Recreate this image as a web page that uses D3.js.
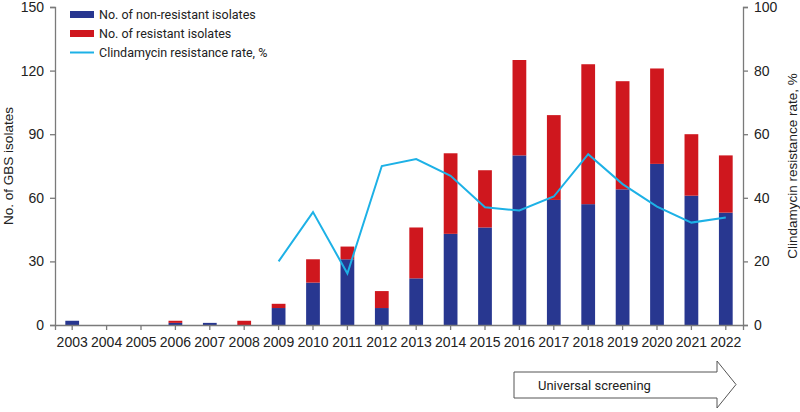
<!DOCTYPE html>
<html>
<head>
<meta charset="utf-8">
<script src="https://cdn.jsdelivr.net/npm/d3@7"></script>
<style>
  body { margin: 0; background: #fff; }
  text { font-family: "Liberation Sans", Arial, sans-serif; }
  .legend text, .banner text { font-family: Roboto, sans-serif; }
</style>
</head>
<body>
<script>
// data
var years = ["2003","2004","2005","2006","2007","2008","2009","2010","2011","2012",
             "2013","2014","2015","2016","2017","2018","2019","2020","2021","2022"];
var nonResistant = [2, 0, 0, 1, 1, 0, 8, 20, 31, 8, 22, 43, 46, 80, 59, 57, 64, 76, 61, 53];
var resistant    = [0, 0, 0, 1, 0, 2, 2, 11, 6, 8, 24, 38, 27, 45, 40, 66, 51, 45, 29, 27];
var rateYears = ["2009","2010","2011","2012","2013","2014","2015","2016","2017","2018",
                 "2019","2020","2021","2022"];
var rate = [20, 35.5, 16.2, 50, 52.2, 46.9, 37, 36, 40.4, 53.7, 44.3, 37.2, 32.2, 33.8];
var leftTicks = [0, 30, 60, 90, 120, 150];
var rightTicks = [0, 20, 40, 60, 80, 100];

var width = 800, height = 412;
var margin = {top: 7, right: 57, bottom: 87, left: 55};

var svg = d3.select("body").append("svg")
    .attr("width", width)
    .attr("height", height);

// scales
var x = d3.scaleBand()
    .domain(years)
    .range([margin.left, width - margin.right])
    .paddingInner(0.6)
    .paddingOuter(0.3);

var y = d3.scaleLinear()
    .domain([0, 150])
    .range([height - margin.bottom, margin.top]);

var y2 = d3.scaleLinear()
    .domain([0, 100])
    .range([height - margin.bottom, margin.top]);

var blue = "#283790", red = "#cf171e", cyan = "#1db1e6", axisGrey = "#7a7a7a";

// stacked bars
var rows = years.map(function(yr, i) {
  return {year: yr, nonResistant: nonResistant[i], resistant: resistant[i]};
});
var stack = d3.stack().keys(["nonResistant", "resistant"])(rows);
var colours = {nonResistant: blue, resistant: red};

svg.append("g").selectAll("g")
    .data(stack)
  .enter().append("g")
    .attr("fill", function(d) { return colours[d.key]; })
  .selectAll("rect")
    .data(function(d) { return d; })
  .enter().append("rect")
    .attr("x", function(d) { return x(d.data.year); })
    .attr("y", function(d) { return y(d[1]); })
    .attr("width", x.bandwidth())
    .attr("height", function(d) { return y(d[0]) - y(d[1]); });

// resistance rate line
var line = d3.line()
    .x(function(d, i) { return x(rateYears[i]) + x.bandwidth() / 2; })
    .y(function(d) { return y2(d); });

svg.append("path")
    .datum(rate)
    .attr("fill", "none")
    .attr("stroke", cyan)
    .attr("stroke-width", 2)
    .attr("d", line);

// axes
function styleAxis(g) {
  g.selectAll("path, line").attr("stroke", axisGrey).attr("stroke-width", 1.3);
  g.selectAll("text").attr("fill", "#222").style("font-size", "14px");
}

svg.append("g")
    .attr("transform", "translate(0," + (height - margin.bottom) + ")")
    .call(d3.axisBottom(x).tickSizeOuter(0).tickSize(5).tickPadding(7))
    .call(styleAxis);

svg.append("g")
    .attr("transform", "translate(" + margin.left + ",0)")
    .call(d3.axisLeft(y).tickValues(leftTicks).tickSizeOuter(0).tickSize(5).tickPadding(6))
    .call(styleAxis);

svg.append("g")
    .attr("transform", "translate(" + (width - margin.right) + ",0)")
    .call(d3.axisRight(y2).tickValues(rightTicks).tickSizeOuter(0).tickSize(5).tickPadding(6))
    .call(styleAxis);

// axis titles
svg.append("text")
    .attr("transform", "translate(13," + (height - margin.bottom + margin.top) / 2 + ") rotate(-90)")
    .attr("text-anchor", "middle")
    .attr("fill", "#222")
    .style("font-size", "13.5px")
    .text("No. of GBS isolates");

svg.append("text")
    .attr("transform", "translate(797," + (height - margin.bottom + margin.top) / 2 + ") rotate(-90)")
    .attr("text-anchor", "middle")
    .attr("fill", "#222")
    .style("font-size", "13.5px")
    .text("Clindamycin resistance rate, %");

// legend
var legend = svg.append("g").attr("class", "legend");
var items = [
  {label: "No. of non-resistant isolates", colour: blue, type: "rect"},
  {label: "No. of resistant isolates", colour: red, type: "rect"},
  {label: "Clindamycin resistance rate, %", colour: cyan, type: "line"}
];
items.forEach(function(it, i) {
  var cy = 14 + i * 19;
  if (it.type === "rect") {
    legend.append("rect").attr("x", 70).attr("y", cy - 3).attr("width", 24).attr("height", 7)
        .attr("fill", it.colour);
  } else {
    legend.append("line").attr("x1", 70).attr("x2", 94).attr("y1", cy + 0.5).attr("y2", cy + 0.5)
        .attr("stroke", it.colour).attr("stroke-width", 2);
  }
  legend.append("text").attr("x", 99).attr("y", cy + 4.5)
      .attr("fill", "#222").style("font-size", "12.5px").text(it.label);
});

// universal screening arrow
var banner = svg.append("g").attr("class", "banner");
banner.append("path")
    .attr("d", "M514,372 L717,372 L717,361 L736,384.5 L717,408 L717,398 L514,398 Z")
    .attr("fill", "#fff")
    .attr("stroke", "#555")
    .attr("stroke-width", 1);
banner.append("text")
    .attr("x", 538).attr("y", 390)
    .attr("fill", "#222")
    .style("font-size", "13px")
    .text("Universal screening");
</script>
</body>
</html>
